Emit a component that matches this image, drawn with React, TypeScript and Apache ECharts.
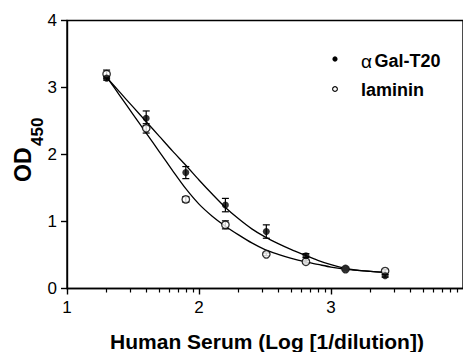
import React, { useEffect, useRef } from "react";
import * as echarts from "echarts";

// Measured points (log10 of 1/dilution)
const doseX = [1.3, 1.6, 1.9, 2.2, 2.51, 2.81, 3.11, 3.41];
const galT20 = [3.14, 2.54, 1.73, 1.245, 0.85, 0.49, 0.29, 0.19];
const galErr = [0.03, 0.11, 0.09, 0.1, 0.1, 0.03, 0.02, 0.02];
const laminin = [3.2, 2.39, 1.33, 0.95, 0.51, 0.4, 0.29, 0.26];
const lamErr = [0.06, 0.07, 0.04, 0.06, 0.02, 0.02, 0.02, 0.02];

// Fitted curves
const curveX = [1.3, 1.4, 1.5, 1.6, 1.7, 1.8, 1.9, 2.0, 2.1, 2.2, 2.3, 2.4, 2.5, 2.6, 2.7, 2.8, 2.9, 3.0, 3.1, 3.2, 3.3, 3.41];
const galCurve = [3.15, 2.93, 2.71, 2.49, 2.27, 2.05, 1.84, 1.62, 1.41, 1.21, 1.04, 0.89, 0.77, 0.67, 0.58, 0.5, 0.42, 0.355, 0.305, 0.275, 0.255, 0.24];
const lamCurve = [3.16, 2.88, 2.6, 2.32, 2.04, 1.76, 1.49, 1.26, 1.08, 0.93, 0.8, 0.68, 0.58, 0.51, 0.45, 0.4, 0.36, 0.32, 0.29, 0.27, 0.255, 0.24];

// Axis ticks
const xMajorTicks = [1, 2, 3, 4];
const xMinorTicks = [1, 2, 3].flatMap((d) => [2, 3, 4, 5, 6, 7, 8, 9].map((k) => d + Math.log10(k)));

const FONT = "'Liberation Sans', Arial, Helvetica, sans-serif";

export default function App() {
  const ref = useRef<HTMLDivElement>(null);
  useEffect(() => {
    if (!ref.current) return;
    const chart = echarts.init(ref.current, null, { renderer: "svg" });
    const errRender = (params: any, api: any) => {
      const x = api.value(0);
      const y = api.value(1);
      const e = api.value(2);
      const top = api.coord([x, y + e]);
      const bot = api.coord([x, y - e]);
      const w = 3.5;
      const style = { stroke: "#000", lineWidth: 1.2 };
      return {
        type: "group",
        children: [
          { type: "line", shape: { x1: top[0], y1: top[1], x2: bot[0], y2: bot[1] }, style },
          { type: "line", shape: { x1: top[0] - w, y1: top[1], x2: top[0] + w, y2: top[1] }, style },
          { type: "line", shape: { x1: bot[0] - w, y1: bot[1], x2: bot[0] + w, y2: bot[1] }, style },
        ],
      };
    };
    const option: any = {
      animation: false,
      backgroundColor: "#fff",
      grid: {
        left: 67,
        top: 20.5,
        width: 400,
        height: 268,
        show: true,
        borderColor: "#000",
        borderWidth: 1.4,
        backgroundColor: "transparent",
      },
      xAxis: [
        {
          type: "value",
          min: 1,
          max: 4,
          interval: 1,
          axisLine: { show: true, onZero: false, lineStyle: { color: "#000", width: 1.4 } },
          axisTick: { show: true, inside: false, length: 6, customValues: xMajorTicks, lineStyle: { color: "#000", width: 1.4 } },
          axisLabel: { color: "#000", fontSize: 17, fontFamily: FONT, margin: 10, showMaxLabel: false },
          splitLine: { show: false },
        },
        {
          type: "value",
          min: 1,
          max: 4,
          position: "bottom",
          axisLine: { show: false },
          axisTick: { show: true, inside: false, length: 4, customValues: xMinorTicks, lineStyle: { color: "#000", width: 1.2 } },
          axisLabel: { show: false },
          splitLine: { show: false },
        },
      ],
      yAxis: {
        type: "value",
        min: 0,
        max: 4,
        interval: 1,
        axisLine: { show: true, lineStyle: { color: "#000", width: 1.4 } },
        axisTick: { show: true, inside: false, length: 6, lineStyle: { color: "#000", width: 1.4 } },
        axisLabel: { color: "#000", fontSize: 17, fontFamily: FONT, margin: 10 },
        splitLine: { show: false },
      },
      series: [
        {
          name: "galCurve",
          type: "line",
          data: curveX.map((x, i) => [x, galCurve[i]]),
          showSymbol: false,
          smooth: 0.3,
          lineStyle: { color: "#000", width: 1.3 },
          z: 2,
        },
        {
          name: "lamCurve",
          type: "line",
          data: curveX.map((x, i) => [x, lamCurve[i]]),
          showSymbol: false,
          smooth: 0.3,
          lineStyle: { color: "#000", width: 1.3 },
          z: 2,
        },
        {
          name: "galErr",
          type: "custom",
          renderItem: errRender,
          data: doseX.map((x, i) => [x, galT20[i], galErr[i]]),
          z: 3,
        },
        {
          name: "lamErr",
          type: "custom",
          renderItem: errRender,
          data: doseX.map((x, i) => [x, laminin[i], lamErr[i]]),
          z: 3,
        },
        {
          name: "laminin",
          type: "scatter",
          data: doseX.map((x, i) => [x, laminin[i]]),
          symbol: "circle",
          symbolSize: 7.5,
          itemStyle: { color: "#fff", borderColor: "#000", borderWidth: 1.3 },
          z: 4,
        },
        {
          name: "αGal-T20",
          type: "scatter",
          data: doseX.map((x, i) => [x, galT20[i]]),
          symbol: "circle",
          symbolSize: 7,
          itemStyle: { color: "#000" },
          z: 5,
        },
      ],
      graphic: [
        { type: "circle", shape: { cx: 335, cy: 59, r: 2.6 }, style: { fill: "#000" } },
        { type: "circle", shape: { cx: 335, cy: 89, r: 2.4 }, style: { fill: "#fff", stroke: "#000", lineWidth: 1.1 } },
        {
          type: "text",
          x: 361,
          y: 61,
          style: { text: "α", fontSize: 19, fontFamily: FONT, fill: "#000", textAlign: "left", textVerticalAlign: "middle" },
        },
        {
          type: "text",
          x: 374.5,
          y: 61,
          style: { text: "Gal-T20", fontSize: 18, fontWeight: "bold", fontFamily: FONT, fill: "#000", textAlign: "left", textVerticalAlign: "middle" },
        },
        {
          type: "text",
          x: 361,
          y: 90,
          style: { text: "laminin", fontSize: 18, fontWeight: "bold", fontFamily: FONT, fill: "#000", textAlign: "left", textVerticalAlign: "middle" },
        },
        {
          type: "text",
          x: 267,
          y: 341,
          style: { text: "Human Serum (Log [1/dilution])", fontSize: 21, fontWeight: "bold", fontFamily: FONT, fill: "#000", textAlign: "center", textVerticalAlign: "middle" },
        },
        {
          type: "text",
          x: 23,
          y: 182,
          rotation: Math.PI / 2,
          style: { text: "OD", fontSize: 23, fontWeight: "bold", fontFamily: FONT, fill: "#000", textAlign: "left", textVerticalAlign: "middle" },
        },
        {
          type: "text",
          x: 37,
          y: 146,
          rotation: Math.PI / 2,
          style: { text: "450", fontSize: 17, fontWeight: "bold", fontFamily: FONT, fill: "#000", textAlign: "left", textVerticalAlign: "middle" },
        },
      ],
    };
    chart.setOption(option);
    return () => chart.dispose();
  }, []);
  return <div ref={ref} style={{ position: "fixed", left: 0, top: 0, width: 463, height: 352 }} />;
}
